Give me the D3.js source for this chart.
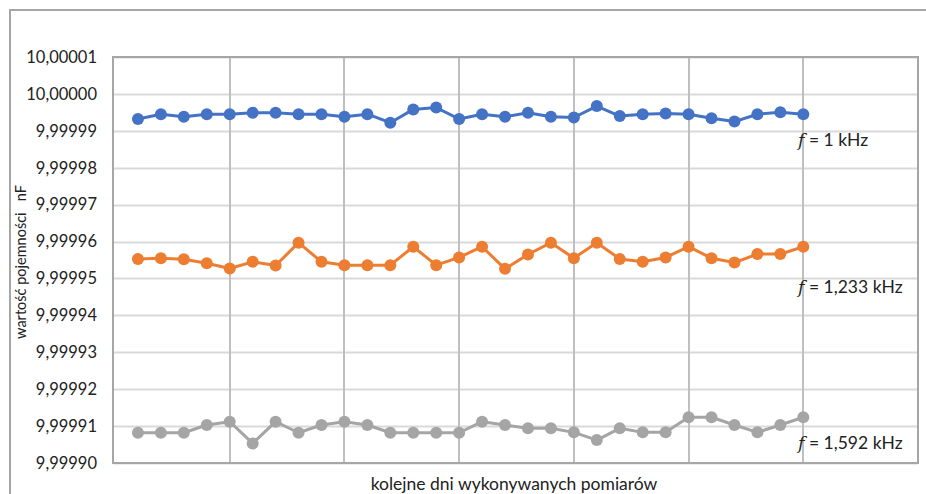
<!DOCTYPE html>
<html>
<head>
<meta charset="utf-8">
<script src="https://cdn.jsdelivr.net/npm/d3@7"></script>
<style>
  html, body { margin: 0; padding: 0; background: #fff; }
  svg { display: block; }
</style>
</head>
<body>
<svg id="chart" width="926" height="494"></svg>
<script>
// Daily capacitance readings (nF) of a 10 nF standard at three frequencies
const days = d3.range(1, 31);
const freqLabels = ["1 kHz", "1,233 kHz", "1,592 kHz"];
const colors = ["#4472c4", "#ed7d31", "#a5a5a5"];

const cap1kHz = [
  9.9999932, 9.9999945, 9.9999938, 9.9999945, 9.9999945, 9.9999949, 9.9999949, 9.9999945, 9.9999945, 9.9999938,
  9.9999945, 9.9999922, 9.9999958, 9.9999963, 9.9999932, 9.9999945, 9.9999938, 9.9999949, 9.9999938, 9.9999936,
  9.9999967, 9.9999940, 9.9999945, 9.9999947, 9.9999945, 9.9999934, 9.9999925, 9.9999945, 9.9999950, 9.9999945
];
const cap1233kHz = [
  9.9999553, 9.9999555, 9.9999552, 9.9999541, 9.9999527, 9.9999545, 9.9999535, 9.9999597, 9.9999545, 9.9999536,
  9.9999536, 9.9999536, 9.9999586, 9.9999536, 9.9999557, 9.9999586, 9.9999526, 9.9999565, 9.9999597, 9.9999555,
  9.9999597, 9.9999553, 9.9999545, 9.9999557, 9.9999586, 9.9999555, 9.9999543, 9.9999566, 9.9999566, 9.9999586
];
const cap1592kHz = [
  9.9999082, 9.9999082, 9.9999082, 9.9999103, 9.9999112, 9.9999053, 9.9999112, 9.9999082, 9.9999103, 9.9999112,
  9.9999103, 9.9999082, 9.9999082, 9.9999082, 9.9999082, 9.9999112, 9.9999103, 9.9999094, 9.9999094, 9.9999083,
  9.9999062, 9.9999094, 9.9999083, 9.9999083, 9.9999124, 9.9999124, 9.9999103, 9.9999083, 9.9999103, 9.9999124
];
// vertical position of each series caption, in nF on the value axis
const labelValues = [9.9999875, 9.9999477, 9.9999054];

const yTicks = [9.99990, 9.99991, 9.99992, 9.99993, 9.99994, 9.99995, 9.99996, 9.99997, 9.99998, 9.99999, 10.00000, 10.00001];
const yTickLabels = ["9,99990", "9,99991", "9,99992", "9,99993", "9,99994", "9,99995", "9,99996", "9,99997", "9,99998", "9,99999", "10,00000", "10,00001"];
const xGridTicks = [0, 5, 10, 15, 20, 25, 30, 35];

const yTitle = "wartość pojemności\u00a0\u00a0\u00a0nF";
const xTitle = "kolejne dni wykonywanych pomiarów";

const series = [cap1kHz, cap1233kHz, cap1592kHz];

const svg = d3.select("#chart");
const plot = { left: 113, right: 918, top: 57, bottom: 463 };

const x = d3.scaleLinear().domain([0, 35]).range([plot.left + 2, plot.right]);
const y = d3.scaleLinear().domain([9.99990, 10.00001]).range([plot.bottom, plot.top]);

const font = "Lato, 'Open Sans', sans-serif";

// chart frame
svg.append("rect")
  .attr("x", 10).attr("y", 10).attr("width", 930).attr("height", 500)
  .attr("fill", "#fff").attr("stroke", "#a6a6a6").attr("stroke-width", 2);

// horizontal gridlines
svg.append("g")
  .selectAll("line").data(yTicks).join("line")
  .attr("x1", plot.left).attr("x2", plot.right)
  .attr("y1", d => Math.round(y(d)) + 0.5).attr("y2", d => Math.round(y(d)) + 0.5)
  .attr("stroke", "#d9d9d9").attr("stroke-width", 2);

// vertical gridlines
svg.append("g")
  .selectAll("line").data(xGridTicks.slice(1, -1)).join("line")
  .attr("x1", d => Math.round(x(d))).attr("x2", d => Math.round(x(d)))
  .attr("y1", plot.top).attr("y2", plot.bottom)
  .attr("stroke", "#bfbfbf").attr("stroke-width", 2);

// plot area border
svg.append("rect")
  .attr("x", plot.left).attr("y", plot.top)
  .attr("width", plot.right - plot.left).attr("height", plot.bottom - plot.top)
  .attr("fill", "none").attr("stroke", "#a6a6a6").attr("stroke-width", 2);

// y axis tick labels
const yAxis = d3.axisLeft(y).tickValues(yTicks)
  .tickFormat((d, i) => yTickLabels[i]).tickSize(0).tickPadding(16);
const gy = svg.append("g").attr("transform", `translate(${plot.left},0)`).call(yAxis);
gy.select(".domain").remove();
gy.selectAll("text")
  .attr("font-family", font)
  .attr("font-size", 16.5).attr("fill", "#222");

// axis titles
svg.append("text")
  .attr("transform", `translate(26,262) rotate(-90)`)
  .attr("text-anchor", "middle")
  .attr("font-family", font)
  .attr("font-size", 14.5).attr("fill", "#222")
  .text(yTitle);

svg.append("text")
  .attr("x", 514).attr("y", 490)
  .attr("text-anchor", "middle")
  .attr("font-family", font)
  .attr("font-size", 17.5).attr("fill", "#222")
  .text(xTitle);

// series lines and markers
const line = d3.line().x((d, i) => x(days[i])).y(d => y(d));
series.forEach((vals, s) => {
  const g = svg.append("g");
  g.append("path").datum(vals)
    .attr("d", line).attr("fill", "none")
    .attr("stroke", colors[s]).attr("stroke-width", 3).attr("stroke-linejoin", "round");
  g.selectAll("circle").data(vals).join("circle")
    .attr("cx", (d, i) => x(days[i])).attr("cy", d => y(d)).attr("r", 6)
    .attr("fill", colors[s]);
});

// series captions
freqLabels.forEach((lab, s) => {
  const t = svg.append("text")
    .attr("x", 798).attr("y", y(labelValues[s]) + 6)
    .attr("font-family", font)
    .attr("font-size", 17.5).attr("fill", "#222");
  t.append("tspan")
    .attr("font-family", "'DejaVu Serif', 'Liberation Serif', serif")
    .attr("font-style", "italic").text("f");
  t.append("tspan").text(" = " + lab);
});
</script>
</body>
</html>
